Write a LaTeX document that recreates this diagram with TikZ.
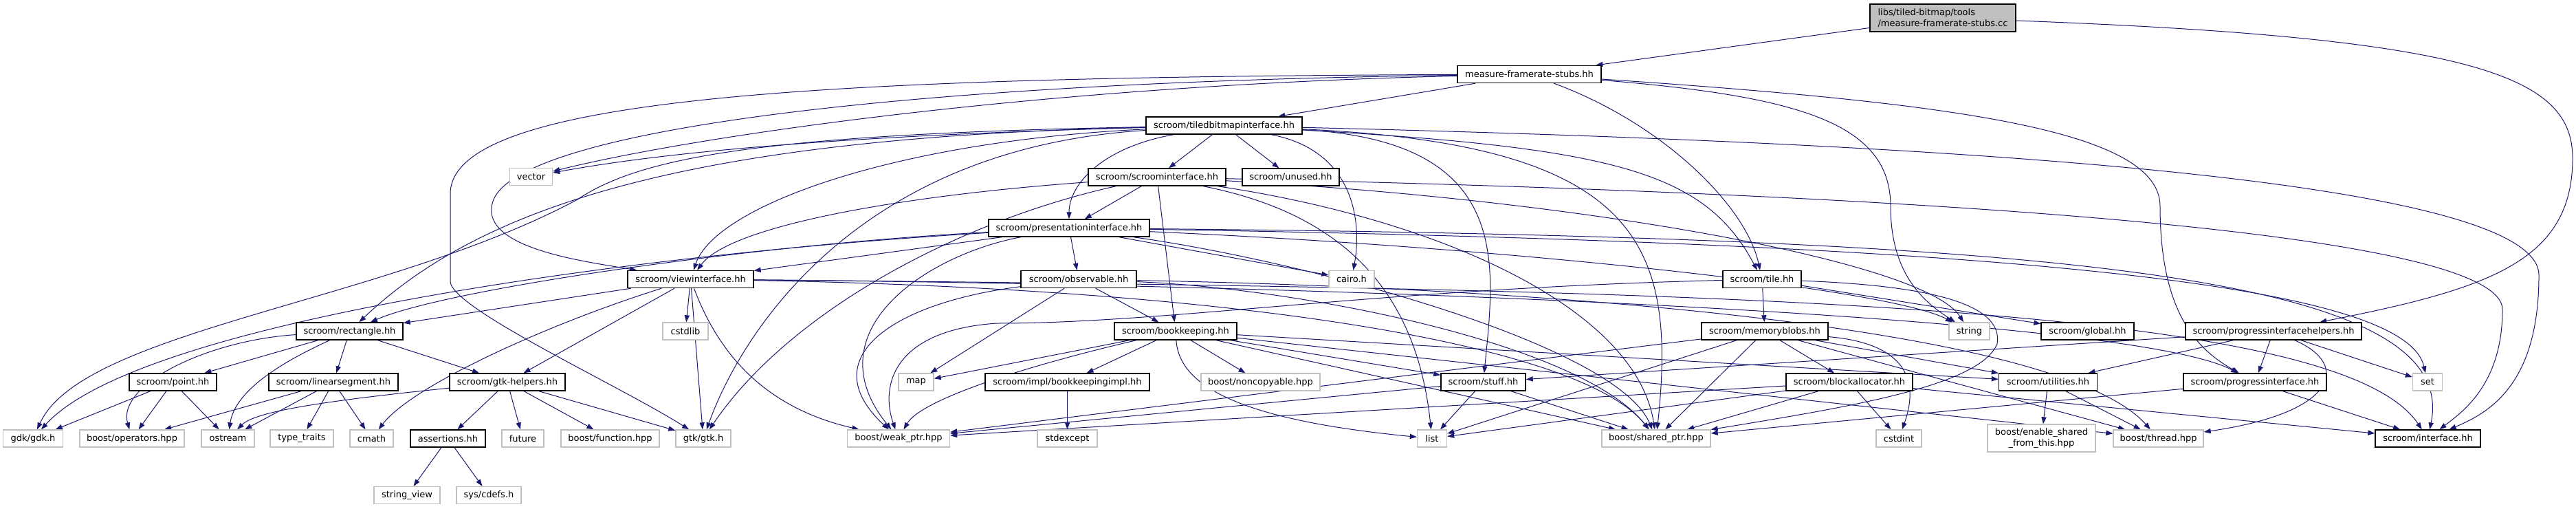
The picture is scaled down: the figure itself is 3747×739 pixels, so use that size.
\documentclass[tikz,border=0pt]{standalone}
\usepackage{fontspec}
\setmainfont{DejaVu Sans}
\usetikzlibrary{arrows.meta,backgrounds}
\definecolor{edgec}{HTML}{191970}
\definecolor{greyb}{HTML}{BFBFBF}
\tikzset{
  docbox/.style={draw=black, line width=0.7pt, minimum height=12.5pt, inner sep=0pt, fill=white,
    font=\fontsize{6.5}{7.8}\selectfont},
  extbox/.style={docbox, draw=greyb},
  edg/.style={draw=edgec, line width=0.5pt, -{Triangle[length=5pt,width=3.6pt]}},
}
\begin{document}
\begin{tikzpicture}[x=0.5pt,y=-0.5pt]
\useasboundingbox (0,0) rectangle (3747,739);
% rank 0-2
\node[docbox, fill=greyb, minimum width=106pt, minimum height=20pt, align=left, inner xsep=5.7pt] (libs) at (2826,26) {libs/tiled-bitmap/tools\\/measure-framerate-stubs.cc};
\node[docbox, minimum width=104.5pt] (mfs) at (2224.5,108) {measure-framerate-stubs.hh};
\node[docbox, minimum width=113.5pt] (tbi) at (1780.5,182.5) {scroom/tiledbitmapinterface.hh};
% rank 3
\node[extbox, minimum width=31pt] (vector) at (772.5,257) {vector};
\node[docbox, minimum width=100pt] (sci) at (1683,257.5) {scroom/scroominterface.hh};
\node[docbox, minimum width=70.5pt] (unused) at (1877.5,257.5) {scroom/unused.hh};
% rank 4
\node[docbox, minimum width=117pt] (pres) at (1555,331.5) {scroom/presentationinterface.hh};
% rank 5
\node[docbox, minimum width=91.5pt] (view) at (1004.5,406) {scroom/viewinterface.hh};
\node[docbox, minimum width=84pt] (obs) at (1569,406) {scroom/observable.hh};
\node[extbox, minimum width=33pt] (cairo) at (1966,406) {cairo.h};
\node[docbox, minimum width=57pt] (tile) at (2563,406) {scroom/tile.hh};
% rank 6
\node[docbox, minimum width=77.5pt] (rect) at (508.5,481.5) {scroom/rectangle.hh};
\node[extbox, minimum width=33pt] (cstdlib) at (997,481.5) {cstdlib};
\node[docbox, minimum width=89pt] (bk) at (1710,481.5) {scroom/bookkeeping.hh};
\node[docbox, minimum width=92pt] (mb) at (2567,481.5) {scroom/memoryblobs.hh};
\node[extbox, minimum width=29.5pt] (string) at (2864.5,481.5) {string};
\node[docbox, minimum width=67.5pt] (global) at (3036.5,481.5) {scroom/global.hh};
\node[docbox, minimum width=128pt] (pih) at (3307,481.5) {scroom/progressinterfacehelpers.hh};
% rank 7
\node[docbox, minimum width=63.5pt] (point) at (251.5,555.5) {scroom/point.hh};
\node[docbox, minimum width=94pt] (lin) at (485,555.5) {scroom/linearsegment.hh};
\node[docbox, minimum width=84pt] (gtkh) at (738,555.5) {scroom/gtk-helpers.hh};
\node[extbox, minimum width=25.5pt] (map) at (1332.5,555.5) {map};
\node[docbox, minimum width=119.5pt] (bki) at (1552.5,555.5) {scroom/impl/bookkeepingimpl.hh};
\node[extbox, minimum width=86.5pt] (noncopy) at (1833.5,555.5) {boost/noncopyable.hpp};
\node[docbox, minimum width=61.5pt] (stuff) at (2157.5,555.5) {scroom/stuff.hh};
\node[docbox, minimum width=92pt] (ba) at (2690,555.5) {scroom/blockallocator.hh};
\node[docbox, minimum width=71.5pt] (util) at (2979,555.5) {scroom/utilities.hh};
\node[docbox, minimum width=104pt] (pi) at (3280,555.5) {scroom/progressinterface.hh};
\node[extbox, minimum width=21.5pt] (set) at (3531,555.5) {set};
% rank 8
\node[extbox, minimum width=43.5pt] (gdk) at (48,637.5) {gdk/gdk.h};
\node[extbox, minimum width=76pt] (ops) at (192,637.5) {boost/operators.hpp};
\node[extbox, minimum width=38.5pt] (ostream) at (331.5,637.5) {ostream};
\node[extbox, minimum width=46pt] (tt) at (439,637.5) {type\_traits};
\node[extbox, minimum width=31.5pt] (cmath) at (540.5,637.5) {cmath};
\node[docbox, minimum width=54.5pt] (assert) at (651.5,637.5) {assertions.hh};
\node[extbox, minimum width=30.5pt] (future) at (760.5,637.5) {future};
\node[extbox, minimum width=71.5pt] (bfun) at (887.5,637.5) {boost/function.hpp};
\node[extbox, minimum width=40pt] (gtk) at (1023,637.5) {gtk/gtk.h};
\node[extbox, minimum width=74.5pt] (weak) at (1307,637.5) {boost/weak\_ptr.hpp};
\node[extbox, minimum width=43.5pt] (stdexcept) at (1552.5,637.5) {stdexcept};
\node[extbox, minimum width=21.5pt] (list) at (2083,637.5) {list};
\node[extbox, minimum width=79pt] (shared) at (2409,637.5) {boost/shared\_ptr.hpp};
\node[extbox, minimum width=33pt] (cstdint) at (2762,637.5) {cstdint};
\node[extbox, minimum width=78.5pt, minimum height=20pt, align=center] (esft) at (2969.5,637) {boost/enable\_shared\\\_from\_this.hpp};
\node[extbox, minimum width=65.5pt] (thread) at (3139.5,637.5) {boost/thread.hpp};
\node[docbox, minimum width=76.5pt] (iface) at (3531.5,637.5) {scroom/interface.hh};
% rank 9
\node[extbox, minimum width=48pt] (sv) at (592,720) {string\_view};
\node[extbox, minimum width=47pt] (cdefs) at (711,720) {sys/cdefs.h};

\begin{pgfonlayer}{background}
% libs
\draw[edg] (libs) -- (mfs);
\draw[edg] (libs) .. controls (3600,55) and (3742,110) .. (3742,230) .. controls (3742,380) and (3620,420) .. (pih);
% mfs
\draw[edg] (mfs) -- (tbi);
\draw[edg] (mfs) .. controls (1500,125) and (1000,200) .. (vector);
\draw[edg] (mfs) .. controls (1300,120) and (760,190) .. (718,290) .. controls (690,360) and (850,380) .. (view);
\draw[edg] (mfs) .. controls (1200,112) and (660,140) .. (655,280) -- (655,410) .. controls (660,450) and (900,560) .. (gtk);
\draw[edg] (mfs) .. controls (2420,180) and (2540,300) .. (tile);
\draw[edg] (mfs) .. controls (2620,140) and (2750,180) .. (2750,300) .. controls (2750,400) and (2800,440) .. (string);
\draw[edg] (mfs) .. controls (2850,150) and (3142,190) .. (3142,300) .. controls (3142,460) and (3200,510) .. (pi);
% tbi
\draw[edg] (tbi) .. controls (1300,195) and (1000,215) .. (vector);
\draw[edg] (tbi) .. controls (1100,195) and (930,230) .. (840,290) .. controls (560,440) and (120,480) .. (gdk);
\draw[edg] (tbi) .. controls (1000,200) and (700,300) .. (rect);
\draw[edg] (tbi) .. controls (1300,205) and (1040,300) .. (view);
\draw[edg] (tbi) .. controls (1250,215) and (1080,480) .. (gtk);
\draw[edg] (tbi) -- (sci);
\draw[edg] (tbi) -- (unused);
\draw[edg] (tbi) .. controls (1600,215) and (1555,270) .. (pres);
\draw[edg] (tbi) .. controls (1975,220) and (1980,330) .. (cairo);
\draw[edg] (tbi) .. controls (2350,215) and (2480,250) .. (tile);
\draw[edg] (tbi) .. controls (2200,205) and (2175,380) .. (stuff);
\draw[edg] (tbi) .. controls (2380,210) and (2440,350) .. (shared);
\draw[edg] (tbi) .. controls (2700,205) and (3693,250) .. (3693,400) .. controls (3693,560) and (3620,600) .. (iface);
% sci
\draw[edg] (sci) -- (pres);
\draw[edg] (sci) .. controls (1300,285) and (1060,330) .. (view);
\draw[edg] (sci) .. controls (1400,320) and (1150,450) .. (gtk);
\draw[edg] (sci) -- (bk);
\draw[edg] (sci) .. controls (1950,310) and (2060,420) .. (list);
\draw[edg] (sci) .. controls (2300,290) and (2800,380) .. (string);
\draw[edg] (sci) .. controls (2100,320) and (2380,450) .. (shared);
\draw[edg] (sci) .. controls (2700,280) and (3640,330) .. (3640,450) .. controls (3640,560) and (3580,600) .. (iface);
% pres
\draw[edg] (pres) -- (view);
\draw[edg] (pres) -- (obs);
\draw[edg] (pres) .. controls (1100,355) and (650,420) .. (rect);
\draw[edg] (pres) .. controls (900,370) and (200,470) .. (gdk);
\draw[edg] (pres) .. controls (1350,370) and (1180,480) .. (weak);
\draw[edg] (pres) -- (cairo);
\draw[edg] (pres) .. controls (2200,360) and (2750,420) .. (string);
\draw[edg] (pres) .. controls (1900,380) and (2350,500) .. (shared);
\draw[edg] (pres) .. controls (3000,355) and (3500,420) .. (set);
\draw[edg] (pres) .. controls (3000,345) and (3580,400) .. (iface);
% view
\draw[edg] (view) -- (rect);
\draw[edg] (view) -- (cstdlib);
\draw[edg] (view) -- (gtk);
\draw[edg] (view) .. controls (1040,500) and (1100,590) .. (weak);
\draw[edg] (view) .. controls (800,470) and (600,560) .. (cmath);
\draw[edg] (view) -- (gtkh);
\draw[edg] (view) .. controls (1800,420) and (2300,500) .. (shared);
\draw[edg] (view) .. controls (2000,415) and (3100,460) .. (pi);
\draw[edg] (view) .. controls (2500,420) and (3400,440) .. (iface);
% obs
\draw[edg] (obs) -- (bk);
\draw[edg] (obs) -- (map);
\draw[edg] (obs) .. controls (1300,440) and (1180,520) .. (weak);
\draw[edg] (obs) .. controls (1900,420) and (2300,500) .. (shared);
\draw[edg] (obs) .. controls (2300,420) and (3000,480) .. (thread);
% tile
\draw[edg] (tile) -- (mb);
\draw[edg] (tile) -- (global);
\draw[edg] (tile) .. controls (2000,420) and (1700,470) .. (1450,470) .. controls (1300,480) and (1280,560) .. (weak);
\draw[edg] (tile) .. controls (2800,415) and (2915,440) .. (2905,500) .. controls (2880,560) and (2700,590) .. (shared);
% rect
\draw[edg] (rect) .. controls (300,495) and (170,560) .. (ops);
\draw[edg] (rect) .. controls (380,540) and (340,580) .. (ostream);
\draw[edg] (rect) -- (point);
\draw[edg] (rect) -- (lin);
\draw[edg] (rect) -- (gtkh);
% bk
\draw[edg] (bk) -- (map);
\draw[edg] (bk) .. controls (1500,530) and (1340,580) .. (weak);
\draw[edg] (bk) -- (bki);
\draw[edg] (bk) -- (noncopy);
\draw[edg] (bk) -- (stuff);
\draw[edg] (bk) .. controls (1715,560) and (1800,610) .. (list);
\draw[edg] (bk) -- (shared);
\draw[edg] (bk) -- (util);
\draw[edg] (bk) -- (thread);
% mb
\draw[edg] (mb) -- (ba);
\draw[edg] (mb) -- (list);
\draw[edg] (mb) -- (shared);
\draw[edg] (mb) .. controls (2780,500) and (2790,560) .. (cstdint);
\draw[edg] (mb) -- (util);
\draw[edg] (mb) -- (weak);
\draw[edg] (mb) -- (thread);
% pih
\draw[edg] (pih) -- (util);
\draw[edg] (pih) -- (pi);
\draw[edg] (pih) -- (set);
\draw[edg] (pih) .. controls (3420,530) and (3400,600) .. (thread);
\draw[edg] (pih) -- (stuff);
% lower ranks
\draw[edg] (point) -- (gdk);
\draw[edg] (point) -- (ops);
\draw[edg] (point) -- (ostream);
\draw[edg] (lin) -- (ops);
\draw[edg] (lin) -- (ostream);
\draw[edg] (lin) -- (tt);
\draw[edg] (lin) -- (cmath);
\draw[edg] (gtkh) -- (assert);
\draw[edg] (gtkh) -- (future);
\draw[edg] (gtkh) -- (bfun);
\draw[edg] (gtkh) -- (gtk);
\draw[edg] (gtkh) .. controls (450,585) and (370,600) .. (ostream);
\draw[edg] (assert) -- (sv);
\draw[edg] (assert) -- (cdefs);
\draw[edg] (bki) -- (stdexcept);
\draw[edg] (stuff) -- (list);
\draw[edg] (stuff) -- (shared);
\draw[edg] (stuff) -- (weak);
\draw[edg] (ba) -- (list);
\draw[edg] (ba) -- (shared);
\draw[edg] (ba) -- (weak);
\draw[edg] (ba) -- (cstdint);
\draw[edg] (ba) -- (iface);
\draw[edg] (util) -- (esft);
\draw[edg] (util) -- (thread);
\draw[edg] (pi) -- (shared);
\draw[edg] (pi) -- (iface);
\end{pgfonlayer}
\end{tikzpicture}
\end{document}
